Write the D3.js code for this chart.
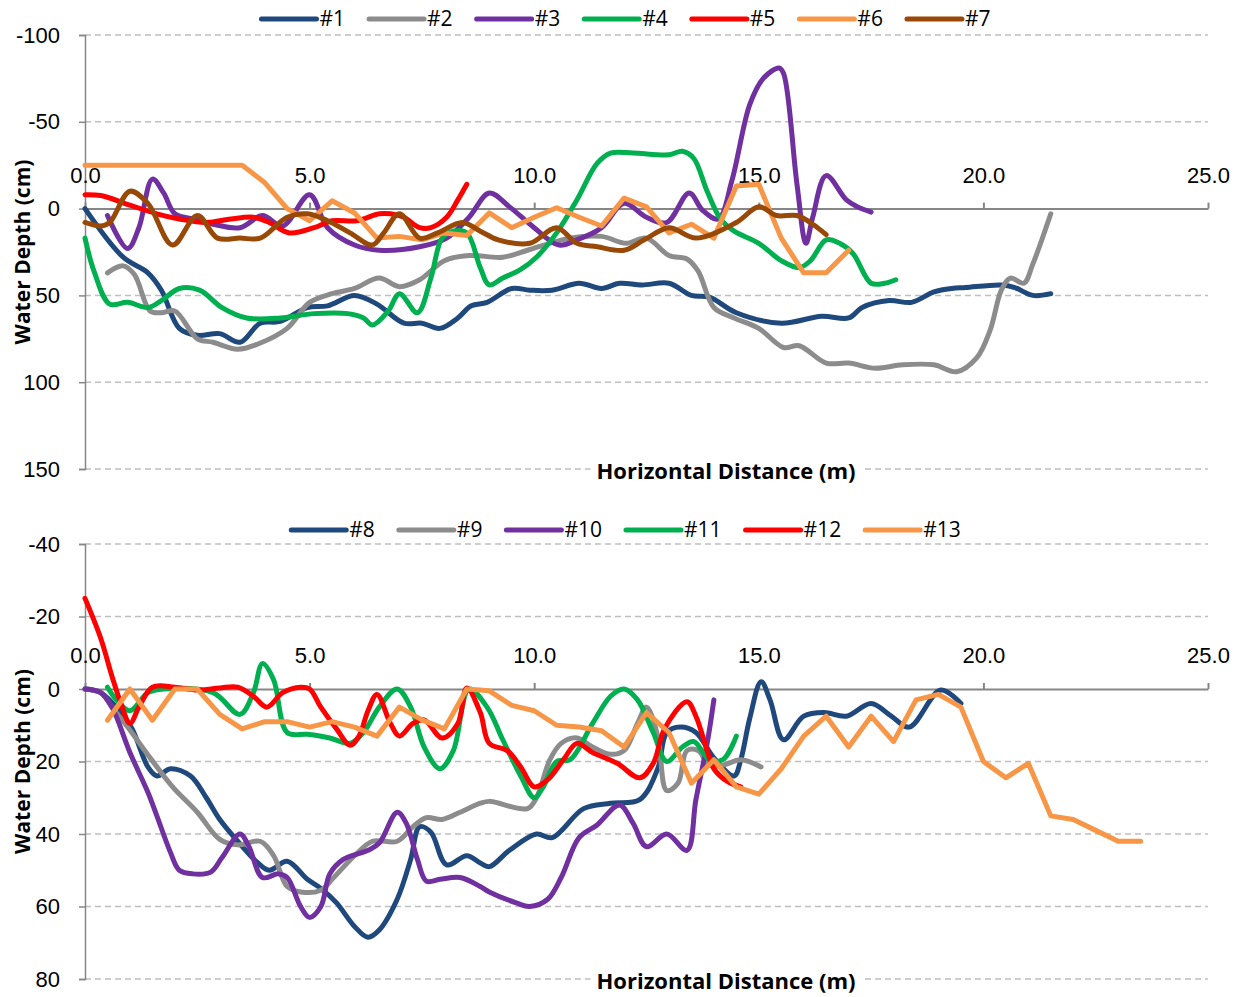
<!DOCTYPE html>
<html>
<head>
<meta charset="utf-8">
<script src="https://cdn.jsdelivr.net/npm/d3@7.9.0/dist/d3.min.js"></script>
<style>
  body { margin: 0; background: #fff; }
  svg { display: block; font-family: "Open Sans", sans-serif; }
</style>
</head>
<body>
<svg id="chart" width="1241" height="997"></svg>
<script>
// distance (m), water depth (cm)
const s1 = [[0,0],[0.85,28],[1.4,37],[1.7,47],[2.1,69],[2.5,73],[3.0,72],[3.45,77],[3.9,66],[4.35,65],[4.95,57],[5.4,56],[6.0,50],[6.5,55],[7.1,66],[7.5,66],[7.9,69],[8.3,63],[8.6,56],[8.95,54],[9.5,46],[9.9,47],[10.4,47],[11.0,43],[11.5,46],[11.9,43],[12.4,44],[13.0,43],[13.5,50],[13.9,51],[14.5,60],[15.5,66],[16.4,62],[17.0,63],[17.3,57],[17.9,53],[18.4,54],[18.9,48],[19.3,46],[19.6,45.5],[20.4,44],[20.7,45.5],[21.1,50],[21.5,49]];
const s2 = [[0.5,37],[0.85,33],[1.1,38],[1.45,59],[1.7,60],[2.0,59],[2.5,75],[2.85,77],[3.4,81],[3.85,78],[4.5,69],[5.0,54],[5.5,49],[6.0,46],[6.55,40],[7.0,45],[7.45,41],[8.0,30],[8.55,27],[9.3,28],[9.85,24],[10.8,17],[11.5,16],[12.05,20],[12.5,17],[13.0,27],[13.4,29],[13.65,36],[14.0,57],[14.45,63],[15.0,69],[15.55,80],[15.9,79],[16.5,89],[17.0,89],[17.6,92],[18.2,90],[18.9,90],[19.4,94],[19.85,86],[20.15,70],[20.4,47],[20.6,40],[20.9,43],[21.1,32],[21.5,3]];
const s3 = [[0.5,4],[0.95,23],[1.2,11],[1.5,-17],[1.75,-9],[2.0,3],[2.4,6],[2.85,9],[3.45,11],[3.95,4],[4.4,10],[5.0,-8],[5.4,11],[6.0,21],[6.55,24],[7.45,22],[8.05,17],[8.55,5],[9.0,-9],[9.45,-1],[10.0,11],[10.55,21],[10.95,18],[11.5,11],[12.0,-3],[12.5,5],[12.95,8],[13.45,-9],[13.75,1],[14.1,6],[14.4,-16],[14.8,-60],[15.1,-75],[15.45,-81],[15.55,-78],[15.85,-14],[16.05,20],[16.2,5],[16.5,-19],[16.95,-5],[17.2,-1],[17.5,2]];
const s4 = [[0,17],[0.2,36],[0.55,55],[0.95,54],[1.4,57],[1.7,53],[2.1,46],[2.55,47],[3.05,57],[3.6,63],[4.35,63],[5.1,60.5],[5.85,60.5],[6.2,63],[6.4,67],[6.75,59],[7.0,49],[7.4,60],[7.7,40],[7.95,17],[8.2,13],[8.5,14],[8.8,34],[9.0,44],[9.3,40],[9.7,35],[10.05,28],[10.5,14],[10.95,-5],[11.4,-26],[11.7,-32],[12.2,-32],[13.0,-31],[13.3,-33],[13.55,-29],[13.85,-10],[14.15,6],[14.45,13],[15.0,20],[15.5,30],[15.9,34],[16.15,30],[16.5,18],[16.8,20],[17.1,26],[17.5,43],[17.8,43],[18.05,41]];
const s5 = [[0,-8],[0.35,-7.5],[1.0,-2],[1.6,3],[2.1,6],[2.7,8],[3.25,6],[3.75,5],[4.1,8],[4.55,14],[5.1,11],[5.5,7],[6.05,7],[6.55,3],[6.8,3],[7.1,5],[7.45,11],[7.7,11],[8.05,5],[8.3,-5],[8.5,-14]];
const s6 = [[0,-25],[0.5,-25],[1.0,-25],[1.5,-25],[2.0,-25],[2.5,-25],[3.0,-25],[3.5,-25],[4.0,-15],[4.5,0],[5.0,7],[5.5,-4.5],[6.0,2.5],[6.5,17],[7.0,16],[7.5,18],[8.0,14],[8.5,15.5],[9.0,2.5],[9.5,11],[10.0,5],[10.5,-0.5],[11.0,5],[11.5,10],[12.0,-6],[12.5,-1],[13.0,14],[13.5,9],[14.0,17],[14.5,-13],[15.0,-14],[15.5,17],[16.0,37],[16.5,37],[17.0,24]];
const s7 = [[0,8],[0.35,10],[0.55,8],[1.0,-10],[1.4,-3],[1.95,21],[2.5,4],[2.95,17],[3.45,17],[3.9,17],[4.5,5],[4.95,3],[5.4,7],[5.9,14],[6.4,21],[6.65,14],[7.0,3],[7.45,17],[7.85,14],[8.4,8],[8.8,13],[9.2,18],[9.9,20],[10.5,11],[10.95,20],[11.4,22],[12.0,24],[12.45,18],[13.0,11],[13.6,17],[14.5,8],[15.0,-1],[15.4,4],[15.85,4],[16.2,9],[16.5,15]];

const s8 = [[0,0],[0.35,1],[0.8,6.5],[1.05,11],[1.4,21.5],[1.6,24],[1.9,22],[2.35,24],[2.7,30],[3.0,36],[3.4,42],[3.85,48],[4.1,50],[4.5,47.5],[4.95,52.5],[5.25,55],[5.6,59],[6.0,65.5],[6.3,68.5],[6.55,66.5],[6.95,58],[7.25,47],[7.45,38],[7.7,39.5],[8.05,48.5],[8.5,46],[8.8,48],[9.0,49],[9.45,44.5],[10.05,40],[10.4,41],[11.1,33],[11.7,31.5],[12.35,30.5],[12.75,22],[12.95,12],[13.25,10.5],[13.6,12],[14.0,19],[14.45,24],[14.6,19.5],[14.8,8],[15.05,-2],[15.25,3],[15.55,14],[16.0,7.5],[16.45,6.5],[16.95,7.5],[17.5,4],[17.95,7.5],[18.35,10.5],[19.05,0.3],[19.5,4]];
const s9 = [[0,0],[0.35,1],[0.6,5],[0.95,10.5],[1.45,19],[1.95,27],[2.5,34],[3.0,41.5],[3.4,43],[3.9,42],[4.2,46],[4.5,54.5],[4.8,56],[5.25,55.5],[5.5,52.5],[6.0,46],[6.4,42],[6.95,42],[7.3,38],[7.6,35.5],[7.95,36],[8.35,34],[8.8,31.5],[9.0,31],[9.85,33],[10.05,30],[10.35,19.5],[10.6,15],[10.95,13.5],[11.3,16],[11.7,18],[12.0,17],[12.3,9.5],[12.5,5],[12.75,13],[12.95,28],[13.2,26],[13.4,17],[13.65,17],[13.9,21],[14.2,21],[14.6,19.5],[15.05,21.5]];
const s10 = [[0,0],[0.35,1],[0.6,5],[1.0,17.5],[1.4,28.5],[1.6,35],[1.9,45],[2.1,50],[2.4,51],[2.8,50.5],[3.05,46.5],[3.45,40],[3.65,43.5],[3.95,52],[4.3,51],[4.5,52],[4.8,60],[5.0,63],[5.25,60],[5.45,51],[5.75,47],[6.3,44.5],[6.55,42.5],[6.95,34],[7.15,37],[7.4,47],[7.6,53],[7.9,52.5],[8.35,52],[8.8,54.5],[9.0,56],[9.6,59],[9.9,60],[10.3,58],[10.6,52],[11.0,41],[11.4,37.5],[11.9,32],[12.2,37],[12.5,43.5],[12.95,40],[13.4,44.5],[13.6,30.5],[13.85,15],[14.0,3]];
const s11 = [[0.5,-0.5],[0.7,3],[1.0,6],[1.4,1],[1.75,0],[2.85,1],[3.45,7],[3.75,1],[3.95,-7],[4.2,-2.5],[4.5,12],[4.95,12.5],[5.45,13.5],[5.9,15],[6.2,12],[6.55,5],[6.95,0],[7.25,5],[7.55,16],[7.9,22],[8.2,17],[8.55,0],[8.95,5],[9.3,14],[9.7,24],[10.0,30],[10.2,27],[10.5,20],[10.8,19.5],[11.3,9.5],[11.7,2],[12.0,0],[12.3,3],[12.65,12],[12.95,20],[13.3,16],[13.55,14.5],[13.9,19.5],[14.2,19.5],[14.5,13]];
const s12 = [[0,-25],[0.35,-14],[0.6,-3.5],[0.8,4],[1.0,9.5],[1.2,5],[1.5,-0.5],[2.0,-0.5],[2.5,0.3],[3.0,-0.3],[3.4,-0.5],[3.75,2],[4.05,5],[4.4,1],[4.8,-0.5],[5.0,0],[5.25,5],[5.6,11],[5.9,15.5],[6.1,13],[6.3,6],[6.5,1.5],[6.8,9.5],[7.0,13],[7.3,9.5],[7.55,8.5],[7.95,13.5],[8.3,9.5],[8.5,-0.3],[8.8,6.5],[9.0,15],[9.4,17],[9.7,21.5],[10.0,27],[10.3,25],[10.65,19.5],[10.95,15],[11.3,17.5],[11.85,20.5],[12.35,24.5],[12.65,20.5],[12.9,11],[13.4,3.5],[13.6,7.5],[13.85,17],[14.0,22],[14.3,25.5],[14.6,27]];
const s13 = [[0.5,8.6],[1.0,0],[1.5,8.6],[2.0,0],[2.5,0],[3.0,7],[3.5,11],[4.0,9],[4.5,9],[5.0,10.5],[5.5,9],[6.0,10.5],[6.5,13],[7.0,5],[7.5,8.5],[8.0,11],[8.5,0],[9.0,0.5],[9.5,4.5],[10.0,6],[10.5,10],[11.0,10.5],[11.5,11.5],[12.0,16],[12.5,6.5],[13.0,12],[13.5,26],[14.0,19.5],[14.5,27],[15.0,29],[15.5,22],[16.0,13],[16.5,7.5],[17.0,16],[17.5,7.5],[18.0,14.5],[18.5,3],[19.0,1.5],[19.5,5],[20.0,20],[20.5,24.5],[21.0,20.5],[21.5,35],[22.0,36],[22.5,39],[23.0,42],[23.5,42]];

const topNames = ["#1", "#2", "#3", "#4", "#5", "#6", "#7"];
const bottomNames = ["#8", "#9", "#10", "#11", "#12", "#13"];
const xTicks = [0, 5, 10, 15, 20, 25];
const topYTicks = [-100, -50, 0, 50, 100, 150];
const bottomYTicks = [-40, -20, 0, 20, 40, 60, 80];

const colors = ["#1f497d", "#8c8c8c", "#7030a0", "#00b050", "#ff0000", "#f79646", "#984807"];

const panels = [
  {
    names: topNames, data: [s1, s2, s3, s4, s5, s6, s7], linear: ["#6"],
    yTicks: topYTicks, top: 35, bottom: 469, legendY: 19, titleY: 470
  },
  {
    names: bottomNames, data: [s8, s9, s10, s11, s12, s13], linear: ["#13"],
    yTicks: bottomYTicks, top: 544, bottom: 979, legendY: 530, titleY: 980
  }
];

const svg = d3.select("#chart");
const left = 85, right = 1208;
const x = d3.scaleLinear().domain([0, 25]).range([left, right]);

panels.forEach((p) => {
  const y = d3.scaleLinear()
    .domain([p.yTicks[0], p.yTicks[p.yTicks.length - 1]])
    .range([p.top, p.bottom]);
  const g = svg.append("g");

  // dashed gridlines
  g.append("g")
    .selectAll("line")
    .data(p.yTicks.filter((t) => t !== 0))
    .join("line")
    .attr("x1", left).attr("x2", right)
    .attr("y1", (d) => y(d)).attr("y2", (d) => y(d))
    .attr("stroke", "#bfbfbf")
    .attr("stroke-width", 1.5)
    .attr("stroke-dasharray", "6,4");

  // y axis
  const yAxis = g.append("g")
    .attr("transform", `translate(${left},0)`)
    .call(d3.axisLeft(y).tickValues(p.yTicks).tickSize(6).tickPadding(19).tickFormat((d) => String(d)));
  yAxis.selectAll("path, line").attr("stroke", "#868686").attr("stroke-width", 1.5);
  yAxis.selectAll("text").attr("font-size", 22).attr("fill", "#000");

  // x axis crossing at depth 0, labels above
  const xAxis = g.append("g")
    .attr("transform", `translate(0,${y(0)})`)
    .call(d3.axisTop(x).tickValues(xTicks).tickSize(6).tickPadding(20).tickFormat(d3.format(".1f")).tickSizeOuter(0));
  xAxis.selectAll("path, line").attr("stroke", "#868686").attr("stroke-width", 2);
  xAxis.selectAll("text").attr("font-size", 22).attr("fill", "#000");

  // series
  p.data.forEach((d, i) => {
    const name = p.names[i];
    const line = d3.line()
      .x((v) => x(v[0]))
      .y((v) => y(v[1]))
      .curve(p.linear.includes(name) ? d3.curveLinear : d3.curveCatmullRom.alpha(0.5));
    g.append("path")
      .datum(d)
      .attr("d", line)
      .attr("fill", "none")
      .attr("stroke", colors[i])
      .attr("stroke-width", 5)
      .attr("stroke-linejoin", "round")
      .attr("stroke-linecap", "round");
  });

  // axis titles
  const titleBox = g.append("rect").attr("fill", "#fff");
  const title = g.append("text")
    .attr("x", 726).attr("y", p.titleY)
    .attr("text-anchor", "middle")
    .attr("dominant-baseline", "central")
    .attr("font-size", 22).attr("font-weight", "bold")
    .text("Horizontal Distance (m)");
  const bb = title.node().getBBox();
  titleBox
    .attr("x", bb.x - 6).attr("y", bb.y).attr("width", bb.width + 12).attr("height", bb.height);

  g.append("text")
    .attr("transform", `translate(22,${(p.top + p.bottom) / 2}) rotate(-90)`)
    .attr("text-anchor", "middle")
    .attr("dominant-baseline", "central")
    .attr("font-size", 21).attr("font-weight", "bold")
    .text("Water Depth (cm)");

  // legend
  const legend = svg.append("g");
  const items = legend.selectAll("g").data(p.names).join("g");
  items.append("line")
    .attr("x1", 0).attr("x2", 55).attr("y1", 0).attr("y2", 0)
    .attr("stroke", (d, i) => colors[i])
    .attr("stroke-width", 5).attr("stroke-linecap", "round");
  items.append("text")
    .attr("x", 58).attr("dy", "0.35em")
    .attr("font-size", 21)
    .text((d) => d);
  let offset = 0;
  items.each(function () {
    const w = d3.select(this).select("text").node().getComputedTextLength();
    d3.select(this).attr("transform", `translate(${offset},${p.legendY})`);
    offset += 58 + w + 24;
  });
  const total = offset - 24;
  legend.attr("transform", `translate(${626 - total / 2},0)`);
});
</script>
</body>
</html>
